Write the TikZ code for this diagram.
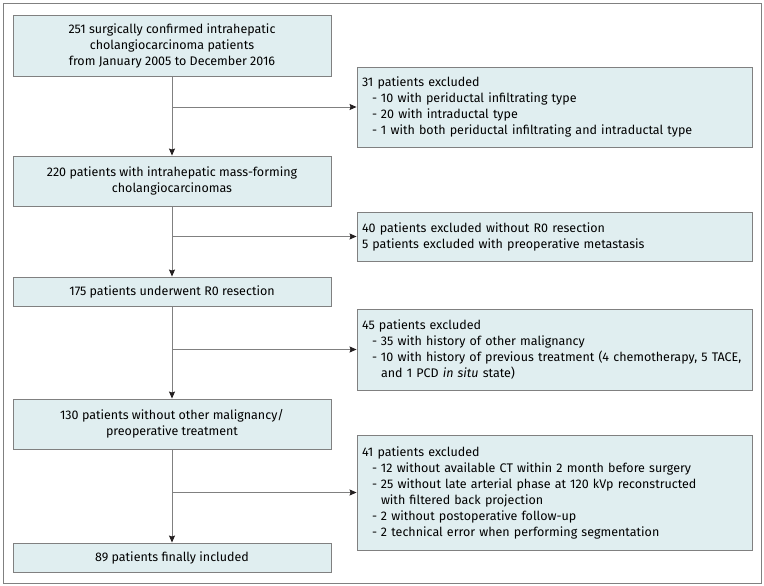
\documentclass[tikz,border=0pt]{standalone}
\usepackage{fontspec}
\setmainfont{Fira Sans}
\usetikzlibrary{arrows.meta}
\definecolor{boxfill}{RGB}{224,238,240}
\definecolor{boxline}{RGB}{128,128,128}
\definecolor{tipcol}{RGB}{35,31,32}
\newcommand\itm[1]{\hspace*{10pt}\makebox[9pt][l]{-}#1}
\newcommand\cont[1]{\hspace*{19pt}#1}
\begin{document}
\begin{tikzpicture}[x=1pt,y=-1pt,
  box/.style={draw=boxline,fill=boxfill,line width=0.9pt,inner sep=0pt,
    font=\fontsize{12.5}{16}\selectfont},
  lbox/.style={box,minimum width=318pt,align=center},
  rbox/.style={box,minimum width=395pt,text width=385pt,align=left},
  arr/.style={draw=boxline,line width=0.9pt,-{Stealth[length=7pt,width=6pt,inset=1pt,color=tipcol]}}]
\useasboundingbox (0,0) rectangle (764,586);
\draw[boxline,line width=0.9pt] (3,3) rectangle (761,583);
\node[lbox,minimum height=61pt] (b1) at (172,45.5) {251 surgically confirmed intrahepatic\\cholangiocarcinoma patients\\from January 2005 to December 2016};
\node[lbox,minimum height=50pt] (b2) at (172,181) {220 patients with intrahepatic mass-forming\\cholangiocarcinomas};
\node[lbox,minimum height=29pt] (b3) at (172,291.5) {175 patients underwent R0 resection};
\node[lbox,minimum height=50pt] (b4) at (172,424) {130 patients without other malignancy/\\preoperative treatment};
\node[lbox,minimum height=29pt] (b5) at (172,557.5) {89 patients finally included};
\node[rbox,minimum height=80pt] (r1) at (554.5,107) {31 patients excluded\\\itm{10 with periductal infiltrating type}\\\itm{20 with intraductal type}\\\itm{1 with both periductal infiltrating and intraductal type}};
\node[rbox,minimum height=49pt] (r2) at (554.5,236.5) {40 patients excluded without R0 resection\\5 patients excluded with preoperative metastasis};
\node[rbox,minimum height=81pt] (r3) at (554.5,349.5) {45 patients excluded\\\itm{35 with history of other malignancy}\\\itm{10 with history of previous treatment (4 chemotherapy, 5 TACE,}\\\cont{and 1 PCD \textit{in situ} state)}};
\node[rbox,minimum height=115pt] (r4) at (554.5,492.5) {41 patients excluded\\\itm{12 without available CT within 2 month before surgery}\\\itm{25 without late arterial phase at 120 kVp reconstructed}\\\cont{with filtered back projection}\\\itm{2 without postoperative follow-up}\\\itm{2 technical error when performing segmentation}};
\draw[arr] (b1.south) -- (b2.north);
\draw[arr] (b2.south) -- (b3.north);
\draw[arr] (b3.south) -- (b4.north);
\draw[arr] (b4.south) -- (b5.north);
\draw[arr] (b1.south |- r1.west) -- (r1.west);
\draw[arr] (b2.south |- r2.west) -- (r2.west);
\draw[arr] (b3.south |- r3.west) -- (r3.west);
\draw[arr] (b4.south |- r4.west) -- (r4.west);
\end{tikzpicture}
\end{document}
